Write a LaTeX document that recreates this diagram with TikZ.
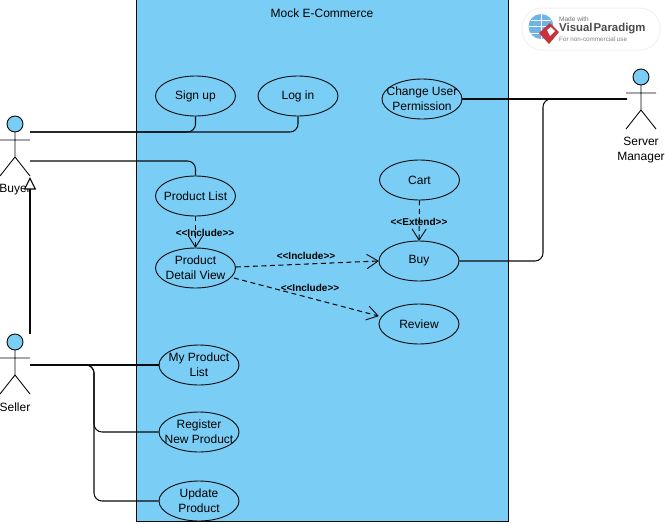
\documentclass[tikz,border=0pt]{standalone}
\usepackage{fontspec}
\setmainfont{Liberation Sans}
\usetikzlibrary{arrows.meta,calc,shapes.geometric}
\definecolor{sysblue}{HTML}{7ACEF6}
\definecolor{linecol}{HTML}{0A0A0A}
\definecolor{vpgrey}{HTML}{4A4A4A}
\definecolor{vpred}{HTML}{C8323C}
\definecolor{vpglobe}{HTML}{6FB4E4}
\tikzset{
  usecase/.style={draw=linecol,fill=sysblue,ellipse,line width=0.9pt,minimum width=80pt,minimum height=40pt,inner xsep=-30pt,inner ysep=-15pt,align=center,font=\fontsize{12}{15}\selectfont},
  actorlabel/.style={align=center,font=\fontsize{12}{14.5}\selectfont,inner sep=0pt},
  assoc/.style={draw=linecol,line width=1.05pt,rounded corners=8pt},
  dep/.style={draw=linecol,line width=1.05pt,dashed,dash pattern=on 5pt off 3.5pt,-{Straight Barb[length=11pt,width=14pt,line width=0.9pt,round]}},
  deplabel/.style={font=\bfseries\fontsize{10}{12}\selectfont,inner sep=0pt},
  stick/.style={draw=linecol,line width=0.9pt},
  pics/actor/.style={code={
    \draw[stick,fill=sysblue] (0,0) circle (8pt);
    \draw[stick] (0,8) -- (0,33) (-15,16) -- (15,16) (-15,52) -- (0,33) -- (15,52);
  }}
}
\newcommand{\stereo}[1]{<{}<#1>{}>}
\begin{document}
\begin{tikzpicture}[x=1pt,y=-1pt]
\useasboundingbox (0,0) rectangle (665,523);
\fill[white] (0,0) rectangle (665,523);
% system
\node[draw=linecol,fill=sysblue,line width=0.9pt,minimum width=372.5pt,minimum height=522pt,inner sep=0pt,anchor=north west] (system) at (135.5,-1) {};
\node[font=\fontsize{12}{14}\selectfont,inner sep=0pt] (title) at (322,13) {Mock E-Commerce};
% use cases
\node[usecase] (signup) at (195.5,96) {Sign up};
\node[usecase] (login) at (298,96) {Log in};
\node[usecase] (change) at (422,99) {Change User\\Permission};
\node[usecase] (cart) at (419.5,180) {Cart};
\node[usecase] (buy) at (419,261) {Buy};
\node[usecase] (review) at (419,324) {Review};
\node[usecase] (plist) at (195.5,196) {Product List};
\node[usecase] (detail) at (195.5,268) {Product\\Detail View};
\node[usecase] (mylist) at (199,365) {My Product\\List};
\node[usecase] (register) at (199,432) {Register\\New Product};
\node[usecase] (update) at (199,501) {Update\\Product};
% actors
\pic at (15,124) {actor};
\pic at (15,342) {actor};
\pic at (641,77) {actor};
\node[actorlabel] (buyer) at (15,189.5) {Buyer};
\node[actorlabel] (seller) at (15,407) {Seller};
\node[actorlabel] (server) at (641,150) {Server\\Manager};
\coordinate (buyerA) at (30,132);
\coordinate (buyerB) at (30,161);
\coordinate (buyerG) at (30,177);
\coordinate (sellerG) at (30,334);
\coordinate (sellerA) at (30,365);
\coordinate (serverA) at (627,99);
% associations
\draw[assoc] (buyerA) -- (signup.south |- buyerA) -- (signup.south);
\draw[assoc] (buyerA) -- (login.south |- buyerA) -- (login.south);
\draw[assoc] (buyerB) -- (plist.north |- buyerB) -- (plist.north);
\draw[assoc] (serverA) -- (change.east);
\draw[assoc] (buy.east) -- (543,261) -- (543,99) -- (serverA);
\draw[assoc] (sellerA) -- (mylist.west);
\draw[assoc] (sellerA) -- (94,365) -- (94,432) -- (register.west);
\draw[assoc] (sellerA) -- (94,365) -- (94,501) -- (update.west);
\draw[draw=linecol,line width=1.1pt,-{Triangle[open,fill=white,length=12.5pt,width=12pt,line width=1.1pt]}] (sellerG) -- (buyerG);
% dependencies
\draw[dep] (plist.south) -- (detail.north);
\draw[dep] (cart.south) -- (buy.north);
\draw[dep] (detail.east) ++(0,-1) -- (buy.west);
\draw[dep] ($(detail.east)+(-2,10)$) -- ($(review.west)+(0,-8)$);
\node[deplabel] (l1) at (205,232.5) {\stereo{Include}};
\node[deplabel] (l2) at (306,255.5) {\stereo{Include}};
\node[deplabel] (l3) at (310,287.5) {\stereo{Include}};
\node[deplabel] (l4) at (419,221.5) {\stereo{Extend}};
% logo
\node[fill=white,draw=black!5,line width=1pt,rounded corners=20pt,minimum width=138pt,minimum height=42pt,inner sep=0pt] (badge) at (591,29) {};
\fill[vpglobe] (541,26.5) circle (12.5pt);
\draw[white,line width=0.5pt] (541,14) -- (541,39) (528.5,26.5) -- (553.5,26.5) (531,20) -- (551,20) (531,33) -- (551,33);
\fill[vpred] (550,23) -- (559,32) -- (549,44) -- (539,33) -- cycle;
\fill[white] (547,30) -- (551,27) -- (555,31) -- (550,36) -- cycle;
\node[inner sep=0pt,anchor=west,text=black!55,font=\fontsize{6.5}{8}\selectfont] (vp1) at (559,18.7) {Made with};
\node[inner sep=0pt,anchor=west,text=vpgrey,font=\bfseries\fontsize{11.4}{13}\selectfont] (vp2) at (559,28.5) {Visual\hspace{1pt}Paradigm};
\node[inner sep=0pt,anchor=west,text=black!50,font=\fontsize{6.3}{8}\selectfont] (vp3) at (559,39) {For non-commercial use};
\end{tikzpicture}
\end{document}
